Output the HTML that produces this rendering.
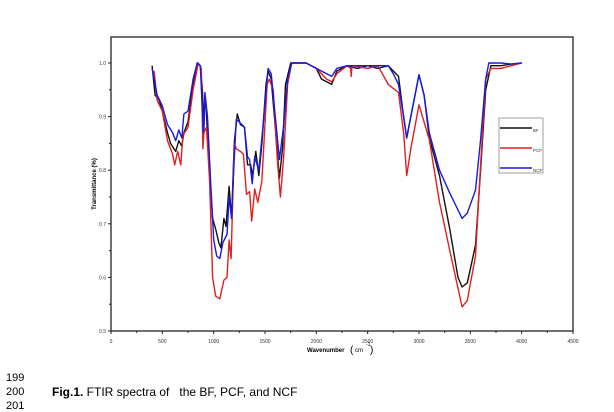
<!DOCTYPE html>
<html><head><meta charset="utf-8"><style>
body{margin:0;background:#fff;width:614px;height:410px;overflow:hidden;position:relative;font-family:"Liberation Sans",sans-serif}
.ln{position:absolute;left:6px;font-size:11px;color:#000}
</style></head><body>
<svg width="614" height="370" style="position:absolute;left:0;top:0" id="chart"></svg>
<div class="ln" style="top:372px">199</div>
<div class="ln" style="top:386px">200</div>
<div class="ln" style="top:400px">201</div>
<div style="position:absolute;left:52px;top:385px;font-size:12px"><b>Fig.1.</b> FTIR spectra of &nbsp; the BF, PCF, and NCF</div>
<script>
const xTicks=[0,500,1000,1500,2000,2500,3000,3500,4000,4500];
const yTicks=[0.5,0.6,0.7,0.8,0.9,1.0];
const seriesNames=["BF","PCF","NCF"];
const seriesColors=["#111","#e02020","#1a1ae0"];
const bfX=[400,430,470,500,550,580,630,660,690,710,750,800,840,870,890,905,915,925,960,990,1020,1050,1070,1100,1120,1150,1175,1200,1230,1260,1300,1330,1360,1380,1410,1440,1470,1510,1530,1560,1600,1640,1670,1700,1750,1900,2000,2050,2100,2150,2200,2300,2400,2500,2600,2700,2750,2800,2850,2880,2920,3000,3050,3100,3200,3300,3380,3420,3470,3550,3600,3650,3700,3800,3900,4000];
const bfY=[0.995,0.94,0.93,0.91,0.87,0.85,0.835,0.855,0.845,0.87,0.89,0.96,1.0,0.995,0.95,0.875,0.94,0.92,0.80,0.71,0.69,0.665,0.655,0.71,0.695,0.77,0.71,0.85,0.905,0.885,0.88,0.81,0.81,0.79,0.835,0.79,0.85,0.96,0.985,0.97,0.88,0.785,0.84,0.96,1.0,1.0,0.99,0.97,0.965,0.96,0.985,0.995,0.99,0.995,0.99,0.995,0.985,0.975,0.9,0.86,0.9,0.978,0.94,0.86,0.79,0.69,0.6,0.582,0.59,0.66,0.8,0.95,0.995,0.995,0.998,1.0];
const pcfX=[420,450,500,550,600,620,650,680,700,750,800,850,880,895,905,930,960,990,1020,1060,1100,1130,1150,1170,1190,1200,1220,1260,1290,1320,1350,1370,1400,1430,1470,1520,1540,1580,1620,1650,1680,1720,1760,1900,2000,2100,2150,2200,2300,2335,2340,2345,2360,2500,2600,2700,2800,2850,2880,2920,3000,3100,3200,3300,3380,3420,3470,3550,3600,3650,3700,3800,3900,4000];
const pcfY=[0.985,0.93,0.91,0.855,0.83,0.81,0.835,0.81,0.865,0.88,0.95,1.0,0.99,0.84,0.87,0.88,0.78,0.60,0.565,0.56,0.595,0.6,0.67,0.635,0.78,0.85,0.84,0.835,0.83,0.755,0.76,0.705,0.765,0.74,0.78,0.96,0.97,0.95,0.82,0.75,0.82,0.96,1.0,1.0,0.99,0.97,0.965,0.98,0.995,0.99,0.975,0.99,0.995,0.99,0.995,0.96,0.945,0.87,0.79,0.84,0.922,0.857,0.74,0.65,0.58,0.545,0.557,0.64,0.81,0.97,0.99,0.99,0.995,1.0];
const ncfX=[400,450,500,550,600,630,660,690,710,750,800,840,870,900,915,940,970,1000,1030,1060,1090,1130,1150,1175,1200,1220,1250,1300,1330,1350,1375,1400,1440,1480,1530,1560,1600,1640,1680,1720,1760,1900,2000,2100,2150,2200,2300,2500,2600,2700,2750,2800,2850,2880,2920,3000,3050,3100,3200,3300,3380,3420,3470,3550,3600,3650,3680,3800,3900,4000];
const ncfY=[0.99,0.94,0.92,0.885,0.87,0.855,0.875,0.86,0.905,0.91,0.97,1.0,0.995,0.87,0.945,0.9,0.78,0.67,0.64,0.635,0.665,0.68,0.75,0.71,0.82,0.895,0.89,0.88,0.825,0.82,0.775,0.825,0.8,0.88,0.99,0.98,0.9,0.82,0.88,0.97,1.0,1.0,0.99,0.98,0.975,0.99,0.995,0.995,0.995,0.995,0.98,0.96,0.9,0.86,0.9,0.978,0.94,0.87,0.80,0.757,0.726,0.71,0.72,0.763,0.857,0.97,1.0,1.0,0.998,1.0];
const allX=[bfX,pcfX,ncfX], allY=[bfY,pcfY,ncfY];
const L=111,R=573,T=37,B=331;
const sx=v=>L+(v-0)/(4500)*(R-L);
const sy=v=>B-(v-0.5)/0.5*(B-63);
const svg=document.getElementById('chart');
const NS='http://www.w3.org/2000/svg';
function mk(tag,attrs,parent){const e=document.createElementNS(NS,tag);for(const k in attrs)e.setAttribute(k,attrs[k]);(parent||svg).appendChild(e);return e;}
const frame=mk('rect',{x:L,y:T,width:R-L,height:B-T,fill:'none',stroke:'#222','stroke-width':1.3});


xTicks.forEach((t,i)=>{
  const tk=mk('line',{x1:sx(t),x2:sx(t),y1:B,y2:B+3,stroke:'#222','stroke-width':1});
  
  
  if(i<xTicks.length-1){const m=mk('line',{x1:sx(t+250),x2:sx(t+250),y1:B,y2:B+2,stroke:'#222','stroke-width':1});
  
  }
  const lb=mk('text',{x:sx(t),y:B+12,'font-size':5,'text-anchor':'middle',fill:'#333'});lb.textContent=t;
  
  
});
yTicks.forEach((t,i)=>{
  const tk=mk('line',{x1:L-3,x2:L,y1:sy(t),y2:sy(t),stroke:'#222','stroke-width':1});
  
  
  if(i<yTicks.length-1){const m=mk('line',{x1:L-2,x2:L,y1:sy(t+0.05),y2:sy(t+0.05),stroke:'#222','stroke-width':1});
  
  }
  const lb=mk('text',{x:L-5,y:sy(t)+2,'font-size':5,'text-anchor':'end',fill:'#333'});lb.textContent=t.toFixed(1);
  
  
});
const yt=mk('text',{x:0,y:0,'font-size':6,'font-weight':'bold','text-anchor':'middle',transform:`translate(96,${(T+B)/2}) rotate(-90)`});yt.textContent='Transmittance (%)';


const xt=mk('text',{x:307,y:352,'font-size':6,'font-weight':'bold'});xt.textContent='Wavenumber';


const xu=mk('text',{x:350,y:353,'font-size':10});xu.textContent='(';


const xu2=mk('text',{x:355,y:352,'font-size':6});xu2.textContent='cm';


const xu3=mk('text',{x:366,y:346,'font-size':5});xu3.textContent='-1';


const xu4=mk('text',{x:370,y:353,'font-size':10});xu4.textContent=')';


allX.forEach((xs,s)=>{
  const d=xs.map((x,i)=>(i?'L':'M')+sx(x).toFixed(1)+','+sy(allY[s][i]).toFixed(1)).join('');
  const p=mk('path',{d,fill:'none',stroke:seriesColors[s],'stroke-width':1.4,'stroke-linejoin':'round'});
  
  
});
const lg=mk('rect',{x:499,y:118,width:44,height:55,fill:'#fff',stroke:'#888','stroke-width':0.8});


seriesNames.forEach((n,i)=>{
  const y=128+i*20;
  const l=mk('line',{x1:500,x2:532,y1:y,y2:y,stroke:seriesColors[i],'stroke-width':1.4});
  
  
  const t=mk('text',{x:533,y:y+4,'font-size':4.5,fill:'#333'});t.textContent=n;
  
  
});
</script>
</body></html>
